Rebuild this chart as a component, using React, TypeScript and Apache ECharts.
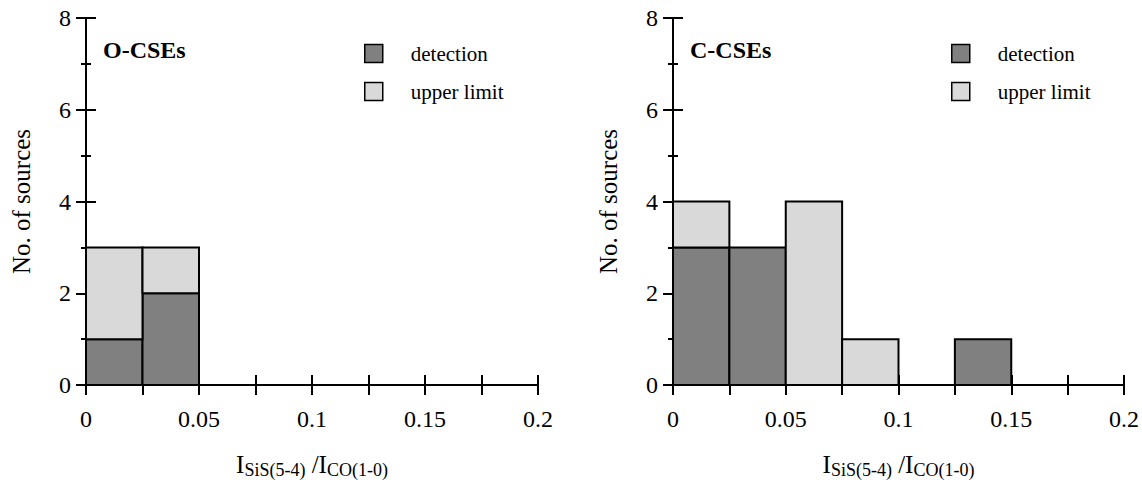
import React, { useEffect, useRef } from "react";
import * as echarts from "echarts";

const binEdges = [0, 0.025, 0.05, 0.075, 0.1, 0.125, 0.15, 0.175, 0.2];
const oDetection = [1, 2, 0, 0, 0, 0, 0, 0];
const oUpperLimit = [2, 1, 0, 0, 0, 0, 0, 0];
const cDetection = [3, 3, 0, 0, 0, 1, 0, 0];
const cUpperLimit = [1, 0, 4, 1, 0, 0, 0, 0];
const xTickLabels = ["0", "0.05", "0.1", "0.15", "0.2"];
const panelTitles = ["O-CSEs", "C-CSEs"];
const seriesNames = ["detection", "upper limit"];

const FONT = "'Liberation Serif', 'Times New Roman', serif";
const DARK = "#808080";
const LIGHT = "#d9d9d9";

function rects(det: number[], up: number[], which: "det" | "up") {
  const out: number[][] = [];
  for (let i = 0; i < det.length; i++) {
    const x0 = binEdges[i];
    const x1 = binEdges[i + 1];
    if (which === "det" && det[i] > 0) out.push([x0, x1, 0, det[i]]);
    if (which === "up" && up[i] > 0) out.push([x0, x1, det[i], det[i] + up[i]]);
  }
  return out;
}

const renderItem = (color: string) => (params: any, api: any) => {
  const p0 = api.coord([api.value(0), api.value(3)]);
  const p1 = api.coord([api.value(1), api.value(2)]);
  return {
    type: "rect",
    shape: { x: p0[0], y: p0[1], width: p1[0] - p0[0], height: p1[1] - p0[1] },
    style: { fill: color, stroke: "#000", lineWidth: 2 },
  };
};

export default function App() {
  const ref = useRef<HTMLDivElement>(null);
  useEffect(() => {
    if (!ref.current) return;
    const chart = echarts.init(ref.current, null, { renderer: "svg" });
    const lefts = [86, 673];
    const W = 452;
    const grids = lefts.map((l) => ({ left: l, top: 18, width: W, height: 367 }));
    const lineStyle = { color: "#000", width: 2 };
    const xLabelFmt = (v: number) => {
      const k = v / 0.05;
      if (Math.abs(k - Math.round(k)) < 1e-6) return xTickLabels[Math.round(k)] ?? "";
      return "";
    };
    const xAxes: any[] = [];
    const yAxes: any[] = [];
    [0, 1].forEach((g) => {
      xAxes.push({
        type: "value",
        gridIndex: g,
        position: "bottom",
        min: 0,
        max: 0.2,
        interval: 0.025,
        axisLine: { show: true, lineStyle },
        axisTick: { show: true, inside: false, length: 10, lineStyle },
        axisLabel: { show: true, margin: 22, formatter: xLabelFmt, color: "#000", fontFamily: FONT, fontSize: 24 },
        splitLine: { show: false },
        name: "{i|I}{s|SiS(5-4)}{i| /I}{s|CO(1-0)}",
        nameLocation: "middle",
        nameGap: 67,
        nameTextStyle: {
          color: "#000",
          fontFamily: FONT,
          fontSize: 24,
          rich: {
            i: { fontSize: 25, verticalAlign: "top", fontFamily: FONT, color: "#000" },
            s: { fontSize: 18, verticalAlign: "top", padding: [9, 0, 0, 0], fontFamily: FONT, color: "#000" },
          },
        },
      });
      xAxes.push({
        type: "value",
        gridIndex: g,
        position: "top",
        min: 0,
        max: 0.2,
        interval: 0.025,
        axisLine: { show: true, lineStyle },
        axisTick: { show: true, inside: false, length: 10, lineStyle },
        axisLabel: { show: false },
        splitLine: { show: false },
      });
      yAxes.push({
        type: "value",
        gridIndex: g,
        position: "left",
        min: 0,
        max: 8,
        interval: 2,
        axisLine: { show: true, lineStyle },
        axisTick: { show: true, inside: false, length: 10, lineStyle },
        minorTick: { show: true, splitNumber: 2, length: 5, lineStyle },
        axisLabel: { show: true, margin: 15, color: "#000", fontFamily: FONT, fontSize: 24 },
        splitLine: { show: false },
        minorSplitLine: { show: false },
        name: "No. of sources",
        nameLocation: "middle",
        nameGap: 52,
        nameTextStyle: { color: "#000", fontFamily: FONT, fontSize: 25 },
      });
      yAxes.push({
        type: "value",
        gridIndex: g,
        position: "right",
        min: 0,
        max: 8,
        interval: 2,
        axisLine: { show: true, lineStyle },
        axisTick: { show: true, inside: false, length: 10, lineStyle },
        minorTick: { show: true, splitNumber: 2, length: 5, lineStyle },
        axisLabel: { show: false },
        splitLine: { show: false },
        minorSplitLine: { show: false },
      });
    });

    const panels = [
      [oDetection, oUpperLimit],
      [cDetection, cUpperLimit],
    ];
    const series: any[] = [];
    panels.forEach(([det, up], g) => {
      series.push({
        type: "custom",
        name: seriesNames[0],
        xAxisIndex: g * 2,
        yAxisIndex: g * 2,
        renderItem: renderItem(DARK),
        itemStyle: { color: DARK, borderColor: "#000", borderWidth: 1.5 },
        encode: { x: [0, 1], y: [2, 3] },
        data: rects(det, up, "det"),
        clip: false,
      });
      series.push({
        type: "custom",
        name: seriesNames[1],
        xAxisIndex: g * 2,
        yAxisIndex: g * 2,
        renderItem: renderItem(LIGHT),
        itemStyle: { color: LIGHT, borderColor: "#000", borderWidth: 1.5 },
        encode: { x: [0, 1], y: [2, 3] },
        data: rects(det, up, "up"),
        clip: false,
      });
    });

    const option: any = {
      animation: false,
      backgroundColor: "#fff",
      grid: grids,
      xAxis: xAxes,
      yAxis: yAxes,
      title: lefts.map((l, i) => ({
        text: panelTitles[i],
        left: l + 17,
        top: 38,
        padding: 0,
        textStyle: { fontFamily: FONT, fontSize: 24, fontWeight: "bold", color: "#000" },
      })),
      legend: lefts.map((l) => ({
        left: l + 278,
        top: 43,
        orient: "vertical",
        padding: 0,
        itemWidth: 18,
        itemHeight: 18,
        itemGap: 17,
        selectedMode: false,
        icon: "rect",
        data: seriesNames.map((n, k) => ({
          name: n,
          icon: "rect",
          itemStyle: { color: k === 0 ? DARK : LIGHT, borderColor: "#000", borderWidth: 1.5 },
        })),
        textStyle: { fontFamily: FONT, fontSize: 21, color: "#000", padding: [0, 0, 0, 23] },
      })),
      series,
    };
    chart.setOption(option);
    return () => chart.dispose();
  }, []);
  return (
    <div
      ref={ref}
      style={{ position: "fixed", left: 0, top: 0, width: 1142, height: 486, background: "#fff" }}
    />
  );
}
